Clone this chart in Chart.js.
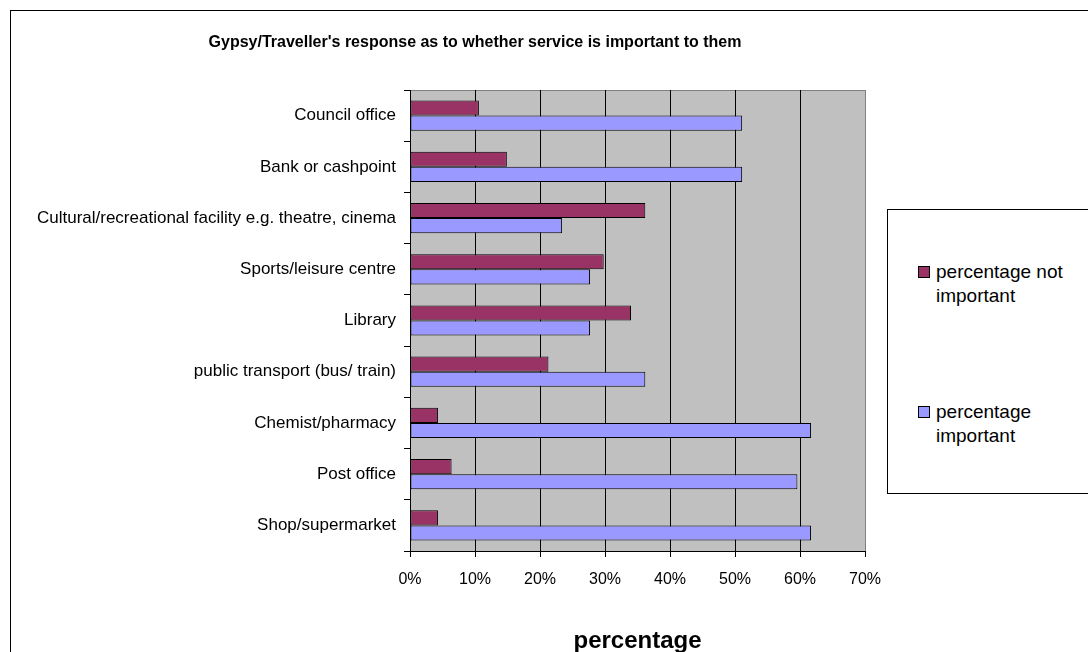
<!DOCTYPE html>
<html>
<head>
<meta charset="utf-8">
<script src="https://cdn.jsdelivr.net/npm/chart.js@4.4.0/dist/chart.umd.min.js"></script>
<style>
    body { margin: 0; background: #fff; width: 1088px; height: 652px; overflow: hidden; position: relative; font-family: "Liberation Sans", Arial, sans-serif; }
    #frame { position: absolute; left: 10px; top: 10px; width: 1200px; height: 800px; border: 1px solid #000; }
    #chart { position: absolute; left: 0; top: 0; }
    #title { position: absolute; left: 75px; width: 800px; top: 32px; text-align: center; font-size: 16px; font-weight: bold; line-height: 20px; color: #000; }
    #legend { position: absolute; left: 887px; top: 209px; width: 300px; height: 283px; border: 1px solid #000; background: #fff; }
    .item { position: absolute; left: 30px; font-size: 19px; line-height: 24px; color: #000; }
    .item .box { position: absolute; left: 0; top: 6px; width: 10px; height: 10px; border: 1px solid #000; }
    .item .txt { position: absolute; left: 18px; top: 0; width: 160px; }
</style>
</head>
<body>
<div id="frame"></div>
<canvas id="chart" width="950" height="680"></canvas>
<div id="title">Gypsy/Traveller's response as to whether service is important to them</div>
<div id="legend"></div>
<script>
const categories = [
    'Council office',
    'Bank or cashpoint',
    'Cultural/recreational facility e.g. theatre, cinema',
    'Sports/leisure centre',
    'Library',
    'public transport (bus/ train)',
    'Chemist/pharmacy',
    'Post office',
    'Shop/supermarket'
];
const notImportant = [10.6, 14.9, 36.2, 29.8, 34.0, 21.3, 4.3, 6.4, 4.3];
const important = [51.1, 51.1, 23.4, 27.7, 27.7, 36.2, 61.7, 59.6, 61.7];
const seriesLabels = ['percentage not important', 'percentage important'];
const seriesColors = ['#993366', '#9999FF'];

const FONT = '"Liberation Sans", Arial, sans-serif';

// grey plot background + grey top edge
const plotBg = {
    id: 'plotBg',
    beforeDraw(chart) {
        const { ctx, chartArea: a } = chart;
        ctx.save();
        ctx.fillStyle = '#C0C0C0';
        ctx.fillRect(a.left, a.top, a.right - a.left, a.bottom - a.top);
        ctx.strokeStyle = '#808080';
        ctx.lineWidth = 1;
        ctx.beginPath();
        ctx.moveTo(a.left, a.top + 0.5);
        ctx.lineTo(a.right, a.top + 0.5);
        ctx.stroke();
        ctx.restore();
    }
};

const chart = new Chart(document.getElementById('chart').getContext('2d'), {
    type: 'bar',
    data: {
        labels: categories,
        datasets: [
            {
                label: seriesLabels[0],
                data: notImportant,
                backgroundColor: seriesColors[0],
                borderColor: '#000',
                borderWidth: 1,
                borderSkipped: false
            },
            {
                label: seriesLabels[1],
                data: important,
                backgroundColor: seriesColors[1],
                borderColor: '#000',
                borderWidth: 1,
                borderSkipped: false
            }
        ]
    },
    options: {
        indexAxis: 'y',
        responsive: false,
        animation: false,
        datasets: { bar: { categoryPercentage: 0.59, barPercentage: 1.0 } },
        layout: { padding: { left: 0, right: 85, top: 90, bottom: 13 } },
        plugins: {
            legend: { display: false },
            tooltip: { enabled: false },
            title: { display: false }
        },
        scales: {
            x: {
                min: 0,
                max: 70,
                ticks: {
                    stepSize: 10,
                    color: '#000',
                    font: { family: FONT, size: 16 },
                    padding: 13,
                    maxRotation: 0,
                    callback: v => v + '%'
                },
                grid: {
                    color: c => (c.tick && c.tick.value === 70) ? '#808080' : '#000',
                    tickColor: '#000',
                    tickLength: 6,
                    drawTicks: true
                },
                border: { color: '#000', width: 1 },
                title: {
                    display: true,
                    text: 'percentage',
                    color: '#000',
                    font: { family: FONT, size: 24, weight: 'bold' },
                    padding: { top: 25, bottom: 11 }
                }
            },
            y: {
                ticks: {
                    color: '#000',
                    font: { family: FONT, size: 17 },
                    padding: 8
                },
                grid: {
                    drawOnChartArea: false,
                    drawTicks: true,
                    tickLength: 6,
                    tickColor: '#000',
                    offset: true
                },
                border: { color: '#000', width: 1 },
                afterFit(scale) { scale.width = 410; }
            }
        }
    },
    plugins: [plotBg]
});

// legend with wrapped labels, built from the datasets
const legendEl = document.getElementById('legend');
const itemTops = [50, 190];
chart.data.datasets.forEach((ds, i) => {
    const item = document.createElement('div');
    item.className = 'item';
    item.style.top = itemTops[i] + 'px';
    item.innerHTML = '<span class="box" style="background:' + ds.backgroundColor + '"></span><span class="txt">' + ds.label + '</span>';
    legendEl.appendChild(item);
});
</script>
</body>
</html>
